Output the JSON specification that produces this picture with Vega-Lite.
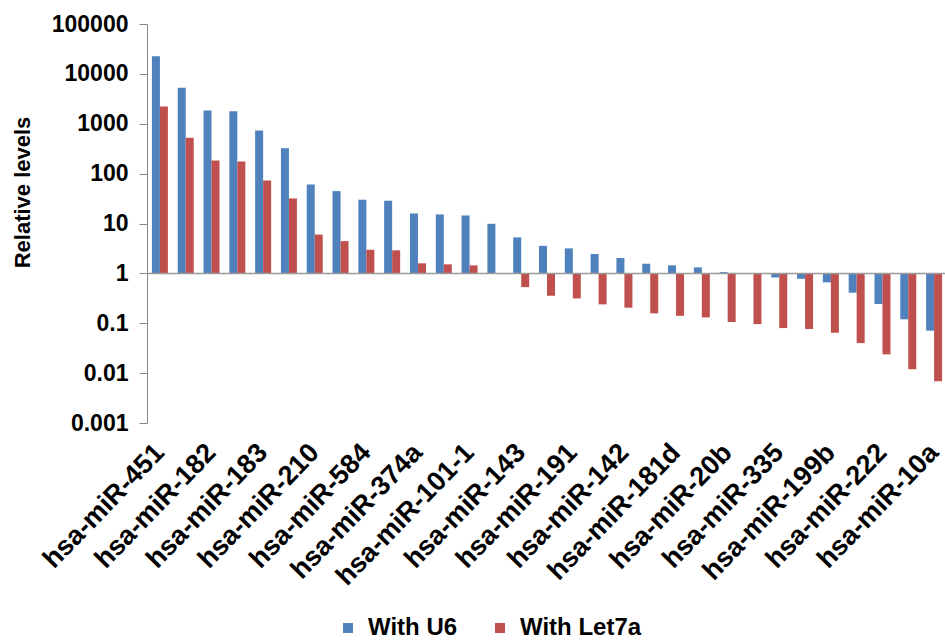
{
  "$schema": "https://vega.github.io/schema/vega-lite/v6.json",
  "autosize": {"type": "none"},
  "width": 800,
  "height": 399,
  "padding": {"left": 147, "top": 24, "right": 0, "bottom": 219},
  "background": "white",
  "config": {"view": {"stroke": null}, "font": "Liberation Sans"},
  "data": {
    "values": [
      {"idx": 1, "mirna": "hsa-miR-451", "With U6": 22600, "With Let7a": 2220},
      {"idx": 2, "mirna": "(unlabelled 2)", "With U6": 5260, "With Let7a": 524},
      {"idx": 3, "mirna": "hsa-miR-182", "With U6": 1850, "With Let7a": 184},
      {"idx": 4, "mirna": "(unlabelled 4)", "With U6": 1790, "With Let7a": 175},
      {"idx": 5, "mirna": "hsa-miR-183", "With U6": 734, "With Let7a": 73},
      {"idx": 6, "mirna": "(unlabelled 6)", "With U6": 324, "With Let7a": 31.8},
      {"idx": 7, "mirna": "hsa-miR-210", "With U6": 60.8, "With Let7a": 6.0},
      {"idx": 8, "mirna": "(unlabelled 8)", "With U6": 44.6, "With Let7a": 4.44},
      {"idx": 9, "mirna": "hsa-miR-584", "With U6": 30, "With Let7a": 2.98},
      {"idx": 10, "mirna": "(unlabelled 10)", "With U6": 28.6, "With Let7a": 2.9},
      {"idx": 11, "mirna": "hsa-miR-374a", "With U6": 15.9, "With Let7a": 1.59},
      {"idx": 12, "mirna": "(unlabelled 12)", "With U6": 15.2, "With Let7a": 1.52},
      {"idx": 13, "mirna": "hsa-miR-101-1", "With U6": 14.5, "With Let7a": 1.45},
      {"idx": 14, "mirna": "(unlabelled 14)", "With U6": 9.86, "With Let7a": 1.0},
      {"idx": 15, "mirna": "hsa-miR-143", "With U6": 5.27, "With Let7a": 0.53},
      {"idx": 16, "mirna": "(unlabelled 16)", "With U6": 3.57, "With Let7a": 0.356},
      {"idx": 17, "mirna": "hsa-miR-191", "With U6": 3.17, "With Let7a": 0.315},
      {"idx": 18, "mirna": "(unlabelled 18)", "With U6": 2.44, "With Let7a": 0.239},
      {"idx": 19, "mirna": "hsa-miR-142", "With U6": 2.03, "With Let7a": 0.205},
      {"idx": 20, "mirna": "(unlabelled 20)", "With U6": 1.56, "With Let7a": 0.158},
      {"idx": 21, "mirna": "hsa-miR-181d", "With U6": 1.45, "With Let7a": 0.141},
      {"idx": 22, "mirna": "(unlabelled 22)", "With U6": 1.32, "With Let7a": 0.131},
      {"idx": 23, "mirna": "hsa-miR-20b", "With U6": 1.06, "With Let7a": 0.106},
      {"idx": 24, "mirna": "(unlabelled 24)", "With U6": 1.0, "With Let7a": 0.096},
      {"idx": 25, "mirna": "hsa-miR-335", "With U6": 0.83, "With Let7a": 0.08},
      {"idx": 26, "mirna": "(unlabelled 26)", "With U6": 0.78, "With Let7a": 0.0766},
      {"idx": 27, "mirna": "hsa-miR-199b", "With U6": 0.66, "With Let7a": 0.0645},
      {"idx": 28, "mirna": "(unlabelled 28)", "With U6": 0.41, "With Let7a": 0.04},
      {"idx": 29, "mirna": "hsa-miR-222", "With U6": 0.243, "With Let7a": 0.0238},
      {"idx": 30, "mirna": "(unlabelled 30)", "With U6": 0.12, "With Let7a": 0.0119},
      {"idx": 31, "mirna": "hsa-miR-10a", "With U6": 0.071, "With Let7a": 0.0069}
    ]
  },
  "transform": [{"fold": ["With U6", "With Let7a"], "as": ["series", "value"]}],
  "layer": [
    {
      "mark": {"type": "bar"},
      "encoding": {
        "x": {
          "field": "mirna",
          "type": "nominal",
          "sort": {"field": "idx", "op": "min"},
          "scale": {"paddingInner": 0.38, "paddingOuter": 0.19},
          "axis": {
            "title": null,
            "domain": false,
            "ticks": false,
            "labelAngle": -46,
            "labelAlign": "right",
            "labelBaseline": "middle",
            "labelPadding": 25,
            "labelFontSize": 27,
            "labelFontWeight": "bold",
            "labelColor": "black",
            "labelLimit": 400,
            "labelOverlap": false,
            "labelExpr": "round(datum.index * 30) % 2 == 0 ? datum.label : ''"
          }
        },
        "xOffset": {
          "field": "series",
          "sort": ["With U6", "With Let7a"],
          "scale": {"paddingInner": 0, "paddingOuter": 0}
        },
        "y": {
          "field": "value",
          "type": "quantitative",
          "scale": {"type": "log", "domain": [0.001, 100000]},
          "axis": {
            "values": [0.001, 0.01, 0.1, 1, 10, 100, 1000, 10000, 100000],
            "format": "~g",
            "grid": false,
            "title": "Relative levels",
            "titleFontSize": 22,
            "titleFontWeight": "bold",
            "titleColor": "black",
            "titleX": -125,
            "titleY": 168,
            "titleBaseline": "middle",
            "labelFontSize": 23,
            "labelFontWeight": "bold",
            "labelColor": "black",
            "labelPadding": 11,
            "domainColor": "#888888",
            "tickColor": "#888888",
            "tickSize": 8
          }
        },
        "y2": {"datum": 1},
        "color": {
          "field": "series",
          "type": "nominal",
          "sort": ["With U6", "With Let7a"],
          "scale": {"range": ["#4F81BD", "#C0504D"]},
          "legend": {
            "orient": "none",
            "legendX": 189,
            "legendY": 592,
            "direction": "horizontal",
            "title": null,
            "padding": 0,
            "symbolType": "square",
            "symbolSize": 100,
            "symbolStrokeWidth": 0,
            "labelFontSize": 24,
            "labelFontWeight": "bold",
            "labelColor": "black",
            "labelOffset": 8,
            "columnPadding": 30
          }
        }
      }
    },
    {
      "data": {"values": [{}]},
      "mark": {"type": "rule", "color": "#9a9a9a", "strokeWidth": 1.5},
      "encoding": {"y": {"datum": 1}}
    }
  ]
}
